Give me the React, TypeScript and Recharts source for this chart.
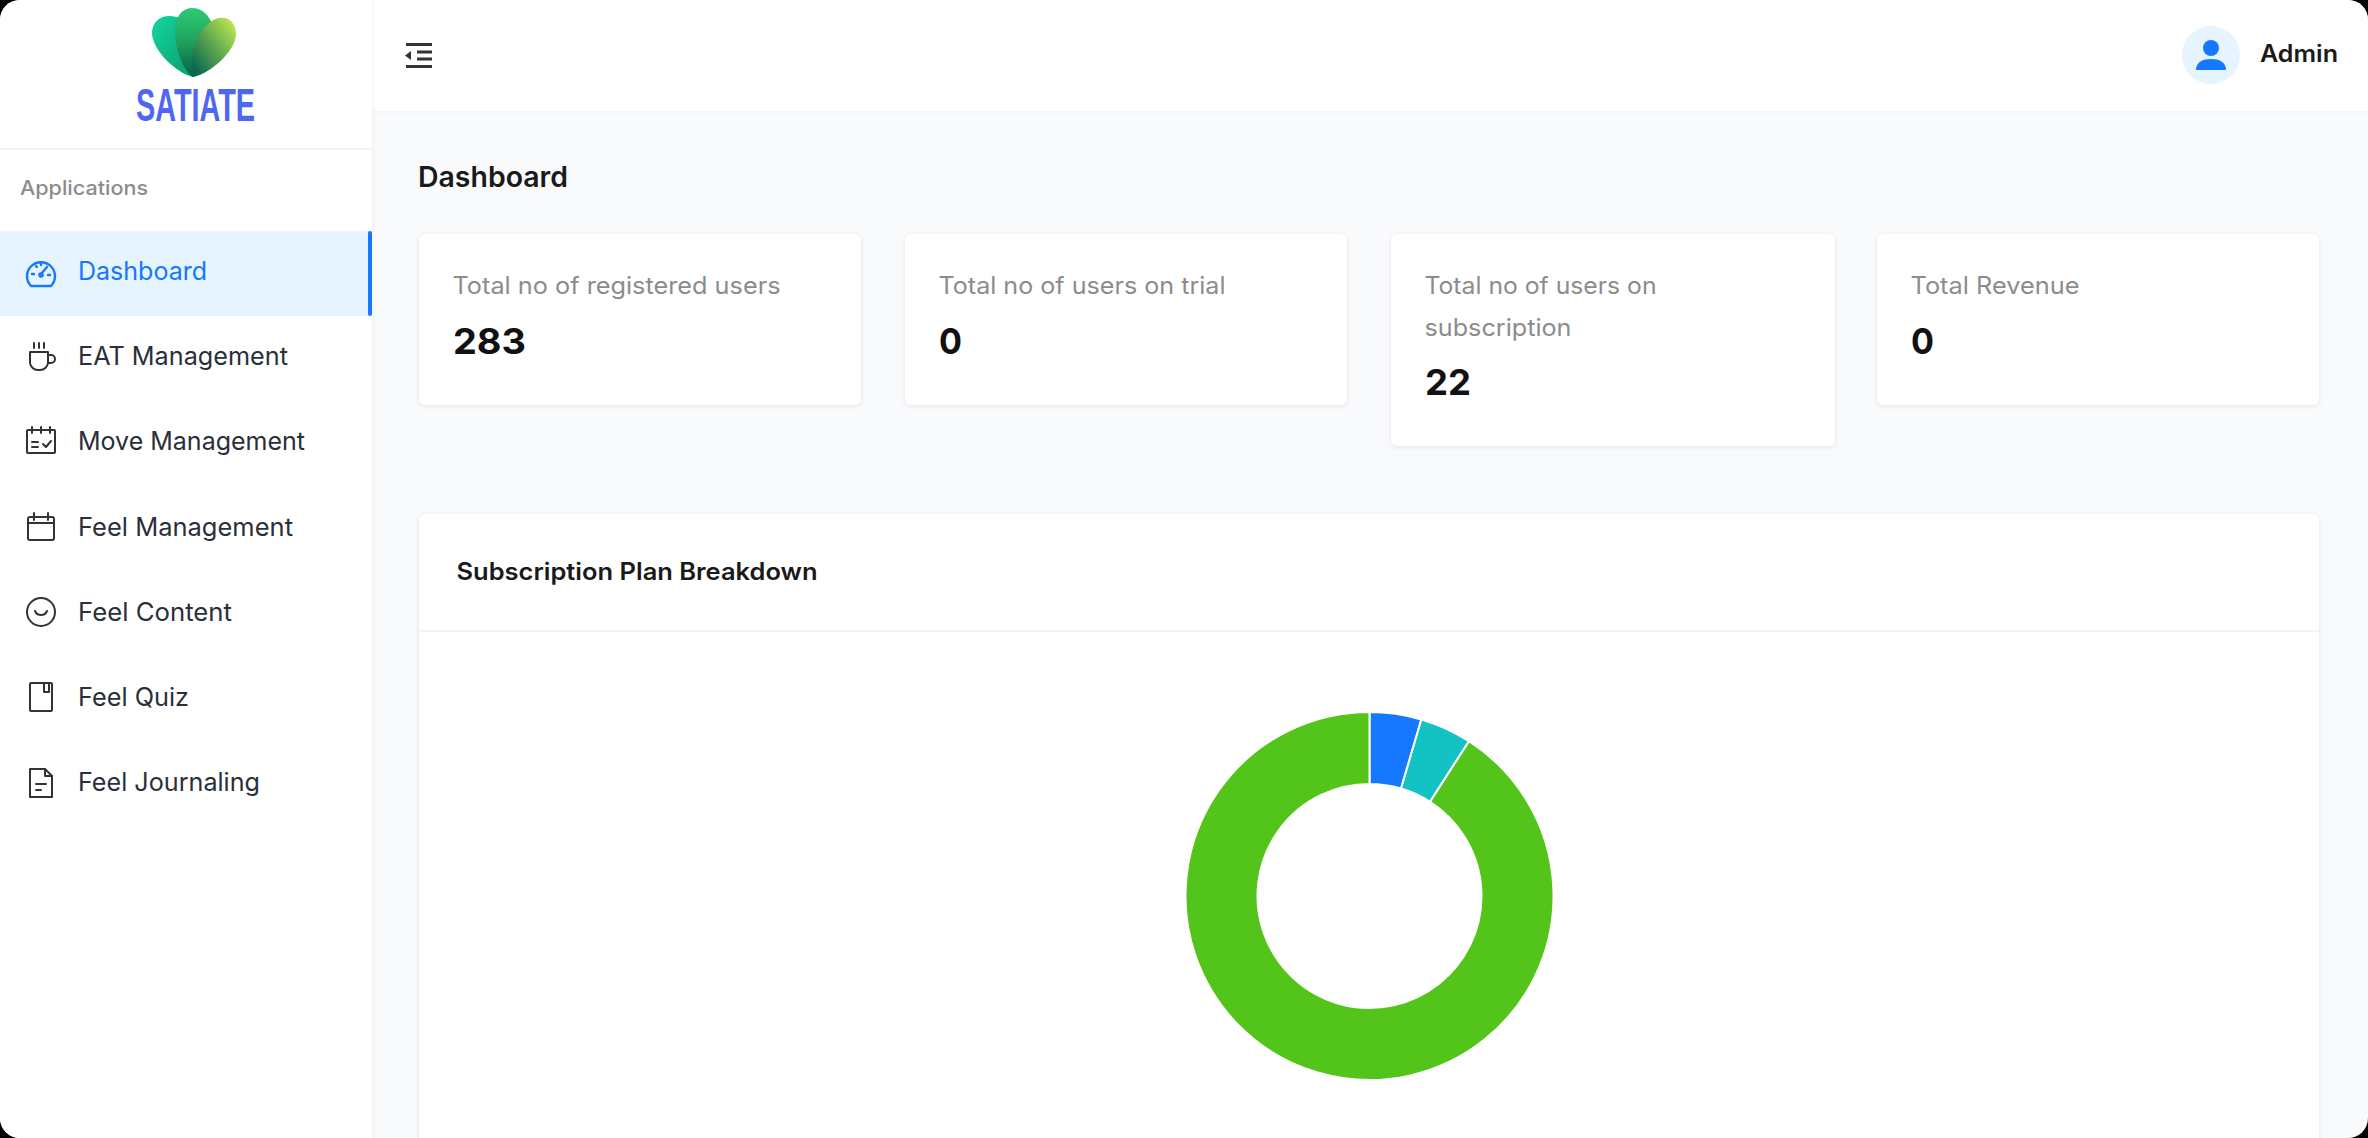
import React from "react";
import { PieChart, Pie, Cell } from "recharts";

const brandName = "SATIATE";
const sectionLabel = "Applications";
const pageTitle = "Dashboard";
const chartTitle = "Subscription Plan Breakdown";
const userName = "Admin";
const activeMenuLabel = "Dashboard";
const menuLabels = ["EAT Management", "Move Management", "Feel Management", "Feel Content", "Feel Quiz", "Feel Journaling"];
const statValues = ["283", "0", "22", "0"];
const planNames = ["Plan 1", "Plan 2", "Plan 3"];
const planValues = [1, 1, 20];

const planData = planNames.map((name, i) => ({ name, value: planValues[i] }));
const planColors = ["#1677ff", "#13c2c2", "#52c41a"];

const FONT = "Inter, 'Noto Sans', sans-serif";
const menuY = [356, 441, 527, 612, 697, 782];
const menuW = [209, 226, 214, 153, 110, 181];
const iconY = [358, 441, 527, 612, 697, 783];

const cardBox: React.CSSProperties = {
  position: "absolute",
  background: "#fff",
  borderRadius: 6,
  boxShadow: "0 1px 5px rgba(30,40,60,0.10)",
};

function T(p: { x: number; y: number; w: number; s: number; c: string; b?: number; children: React.ReactNode; f?: string }) {
  return (
    <text
      x={p.x}
      y={p.y}
      dominantBaseline="central"
      fontFamily={p.f || FONT}
      fontSize={p.s}
      fontWeight={p.b || 400}
      fill={p.c}
      textLength={p.w}
      lengthAdjust="spacingAndGlyphs"
    >
      {p.children}
    </text>
  );
}

function MenuIcon({ i, y }: { i: number; y: number }) {
  const common = { fill: "none", stroke: "#333", strokeWidth: 2, strokeLinecap: "round" as const, strokeLinejoin: "round" as const };
  return (
    <g transform={`translate(41 ${y})`} {...common}>
      {i === 0 && (
        <>
          <path d="M-11 -6H7V5A8 8 0 0 1 -1 12H-3A8 8 0 0 1 -11 5Z" />
          <path d="M7 -3H10A4 4 0 0 1 10 5H7" />
          <path d="M-7 -15V-10M-2 -15V-10M3 -15V-10" />
        </>
      )}
      {i === 1 && (
        <>
          <rect x={-14} y={-11} width={28} height={23} rx={1} />
          <path d="M-9 -14V-8M0 -14V-8M9 -14V-8M-9 1H-3M-9 6H-3M2 3L5 6L10 0" />
        </>
      )}
      {i === 2 && (
        <>
          <rect x={-13} y={-10} width={26} height={23} rx={2} />
          <path d="M-13 -4H13M-7 -14V-7M7 -14V-7" />
        </>
      )}
      {i === 3 && (
        <>
          <circle r={14} />
          <path d="M-6 -1A6.5 6.5 0 0 0 6 -1" />
        </>
      )}
      {i === 4 && (
        <>
          <rect x={-11} y={-14} width={22} height={28} rx={1} />
          <path d="M3 -14V-5H8V-14" />
        </>
      )}
      {i === 5 && (
        <>
          <path d="M-11 -14H4L11 -7V14H-11Z" />
          <path d="M4 -14V-7H11M-5 1H5M-5 7H0" />
        </>
      )}
    </g>
  );
}

export default function App() {
  return (
    <div style={{ position: "fixed", left: 0, top: 0, width: 2368, height: 1138, background: "#000", overflow: "hidden" }}>
      <div style={{ position: "absolute", inset: 0, background: "#f9fafc", borderRadius: 20, overflow: "hidden" }}>
        {/* header */}
        <div style={{ position: "absolute", left: 372, top: 0, width: 1996, height: 111, background: "#fff", boxShadow: "0 1px 4px rgba(30,40,60,0.04)" }} />
        {/* sidebar */}
        <div style={{ position: "absolute", left: 0, top: 0, width: 372, height: 1138, background: "#fff", boxShadow: "1px 0 6px rgba(30,40,60,0.05)" }} />
        <div style={{ position: "absolute", left: 0, top: 148, width: 372, height: 2, background: "#f3f4f6" }} />
        <div style={{ position: "absolute", left: 0, top: 231, width: 372, height: 85, background: "#e6f4ff" }} />
        <div style={{ position: "absolute", left: 368, top: 231, width: 4, height: 85, background: "#1677ff", borderRadius: 2 }} />
        {/* cards */}
        <div style={{ ...cardBox, left: 419, top: 234, width: 442, height: 171 }} />
        <div style={{ ...cardBox, left: 905, top: 234, width: 442, height: 171 }} />
        <div style={{ ...cardBox, left: 1391, top: 234, width: 444, height: 212 }} />
        <div style={{ ...cardBox, left: 1877, top: 234, width: 442, height: 171 }} />
        <div style={{ ...cardBox, left: 419, top: 514, width: 1900, height: 700 }} />
        <div style={{ position: "absolute", left: 419, top: 630, width: 1900, height: 2, background: "#f3f4f6" }} />

        <svg width={2368} height={1138} style={{ position: "absolute", left: 0, top: 0 }}>
          <defs>
            <linearGradient id="leafA" x1="0" y1="0" x2="1" y2="1">
              <stop offset="0" stopColor="#12d6a2" />
              <stop offset="1" stopColor="#0c9a6a" />
            </linearGradient>
            <linearGradient id="leafB" x1="0.5" y1="0" x2="0.5" y2="1">
              <stop offset="0" stopColor="#2ecb75" />
              <stop offset="0.5" stopColor="#1fa05c" />
              <stop offset="1" stopColor="#075f48" />
            </linearGradient>
            <linearGradient id="leafC" x1="0.95" y1="0.05" x2="0.1" y2="0.9">
              <stop offset="0" stopColor="#c0ec50" />
              <stop offset="0.5" stopColor="#62a84e" />
              <stop offset="1" stopColor="#0a6a50" />
            </linearGradient>
          </defs>
          {/* logo */}
          <path d="M193 77C176 73 152 50 152 33C152 22 160 16 169 16C178 16 186 20 190 30L196 60Z" fill="url(#leafA)" />
          <path d="M193 77C183 70 175 50 175 30C175 16 183 8 192 8C202 8 209 15 212 24L205 66C201 72 197 76 193 77Z" fill="url(#leafB)" />
          <path d="M193 77C190 55 194 36 209 23C221 13 236 18 236 34C236 50 212 73 193 77Z" fill="url(#leafC)" />
          <T x={136} y={105} w={119} s={46} c="#4f66f2" b={700} f="'Liberation Sans Narrow', 'Liberation Sans', sans-serif">{brandName}</T>

          <T x={20} y={188} w={128} s={20} c="#8c8c8c" b={500}>{sectionLabel}</T>

          {/* dashboard icon */}
          <g transform="translate(41 272)" fill="none" stroke="#1677ff" strokeWidth={2.4} strokeLinecap="round" strokeLinejoin="round">
            <path d="M-10 14A14 14 0 1 1 10 14Z" />
            <path d="M0 2L6 -5M-9 2H-7M7 3H9M-5 -6L-4 -5M0 -9V-7" />
            <circle cx={0} cy={3} r={1.6} />
          </g>
          <T x={78} y={271} w={129} s={25} c="#1677ff" b={400}>{activeMenuLabel}</T>

          {menuLabels.map((label, i) => (
            <g key={label}>
              <MenuIcon i={i} y={iconY[i]} />
              <T x={78} y={menuY[i]} w={menuW[i] + 1} s={25} c="#2a2f3a" b={400}>{label}</T>
            </g>
          ))}

          {/* collapse icon */}
          <g stroke="#333" strokeWidth={3} fill="none">
            <path d="M406 44.5H432M417 52H432M417 59H432M406 66.5H432" />
          </g>
          <path d="M411 51V60L405 55.5Z" fill="#333" />

          {/* avatar */}
          <circle cx={2211} cy={55} r={29} fill="#e6f4ff" />
          <circle cx={2211} cy={48} r={8} fill="#1677ff" />
          <path d="M2196 70C2196 62 2203 59 2211 59C2219 59 2226 62 2226 70Z" fill="#1677ff" />
          <T x={2260} y={53} w={78} s={24} c="#1a1a1a" b={600}>{userName}</T>

          <T x={418} y={177} w={150} s={28} c="#1a1a1a" b={600}>{pageTitle}</T>

          <T x={452.5} y={285.5} w={328} s={24} c="#8c8c8c">Total no of registered users</T>
          <T x={453} y={341} w={73} s={36} c="#111" b={700}>{statValues[0]}</T>

          <T x={938.5} y={285.5} w={287} s={24} c="#8c8c8c">Total no of users on trial</T>
          <T x={939} y={341} w={23} s={36} c="#111" b={700}>{statValues[1]}</T>

          <T x={1424.5} y={285.5} w={232} s={24} c="#8c8c8c">Total no of users on</T>
          <T x={1424.5} y={327} w={147} s={24} c="#8c8c8c">subscription</T>
          <T x={1425} y={382} w={46} s={36} c="#111" b={700}>{statValues[2]}</T>

          <T x={1910.5} y={285.5} w={169} s={24} c="#8c8c8c">Total Revenue</T>
          <T x={1911} y={341} w={23} s={36} c="#111" b={700}>{statValues[3]}</T>

          <T x={456.5} y={571} w={361} s={24} c="#1a1a1a" b={600}>{chartTitle}</T>
        </svg>

        <div style={{ position: "absolute", left: 1150, top: 676, width: 440, height: 440 }}>
          <PieChart width={440} height={440} margin={{ top: 0, right: 0, bottom: 0, left: 0 }}>
            <Pie
              data={planData}
              dataKey="value"
              nameKey="name"
              cx={219.5}
              cy={220}
              innerRadius={112}
              outerRadius={184}
              startAngle={90}
              endAngle={-270}
              stroke="#fff"
              strokeWidth={2}
              isAnimationActive={false}
              label={false}
              labelLine={false}
            >
              {planData.map((d, i) => (
                <Cell key={d.name} fill={planColors[i]} />
              ))}
            </Pie>
          </PieChart>
        </div>
      </div>
    </div>
  );
}
